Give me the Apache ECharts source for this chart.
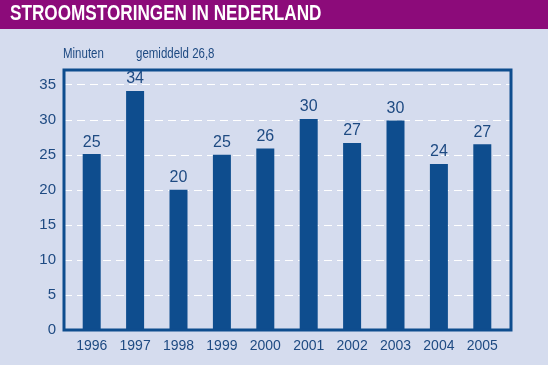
<!DOCTYPE html>
<html><head><meta charset="utf-8">
<script src="https://cdn.jsdelivr.net/npm/echarts@6/dist/echarts.min.js"></script>
<style>html,body{margin:0;padding:0;background:#d5dcee;}#c{width:548px;height:365px;}</style>
</head><body><div id="c"></div>
<script>
const years = ['1996','1997','1998','1999','2000','2001','2002','2003','2004','2005'];
const minutes = [25.1, 34.1, 20.0, 25.0, 25.9, 30.1, 26.7, 29.9, 23.7, 26.5];
const yTicks = [0, 5, 10, 15, 20, 25, 30, 35];
const title = 'STROOMSTORINGEN IN NEDERLAND';
const unitLabel = 'Minuten';
const avgLabel = 'gemiddeld 26,8';
const dark = '#0e4d8e';
const txt = '#1e4a82';
const yMax = 37.1;
const chart = echarts.init(document.getElementById('c'));
chart.setOption({
  backgroundColor: '#d5dcee',
  animation: false,
  graphic: [
    {type:'rect', left:0, top:0, shape:{width:548, height:29}, style:{fill:'#8c0b7a'}},
    {type:'text', x:10, y:3, scaleX:0.78, style:{text:title, fill:'#ffffff', font:'bold 22px "Liberation Sans", Arial, sans-serif'}},
    {type:'text', x:63, y:47, scaleX:0.82, style:{text:unitLabel, fill:txt, font:'14px "Liberation Sans", Arial, sans-serif'}},
    {type:'text', x:136, y:47, scaleX:0.82, style:{text:avgLabel, fill:txt, font:'14px "Liberation Sans", Arial, sans-serif'}}
  ],
  grid: [
    {left:64, right:37, top:70, bottom:35, show:true, borderColor:dark, borderWidth:3, z:5},
    {left:70, right:44, top:70, bottom:35}
  ],
  xAxis: [
    {gridIndex:0, type:'category', data:years, show:false},
    {gridIndex:1, type:'category', data:years,
      axisLine:{show:false}, axisTick:{show:false},
      axisLabel:{color:txt, fontSize:14, fontFamily:'"Liberation Sans", Arial, sans-serif', margin:9}}
  ],
  yAxis: [
    {gridIndex:0, type:'value', min:0, max:yMax, interval:5,
      axisLine:{show:false}, axisTick:{show:false},
      axisLabel:{color:txt, fontSize:15, fontFamily:'"Liberation Sans", Arial, sans-serif', margin:8,
        showMaxLabel:false, formatter: v => (yTicks.indexOf(v) >= 0 ? String(v) : '')},
      splitLine:{show:true, showMaxLine:false, lineStyle:{color:'#ffffff', type:[8,5], width:1}}},
    {gridIndex:1, type:'value', min:0, max:yMax, show:false, splitLine:{show:false}}
  ],
  series: [{type:'bar', xAxisIndex:1, yAxisIndex:1, data:minutes, barWidth:18, z:3, itemStyle:{color:dark},
    label:{show:true, position:'top', color:txt, fontSize:16, fontFamily:'"Liberation Sans", Arial, sans-serif', distance:4,
      formatter: p => String(Math.round(p.value))}}]
});
</script></body></html>
